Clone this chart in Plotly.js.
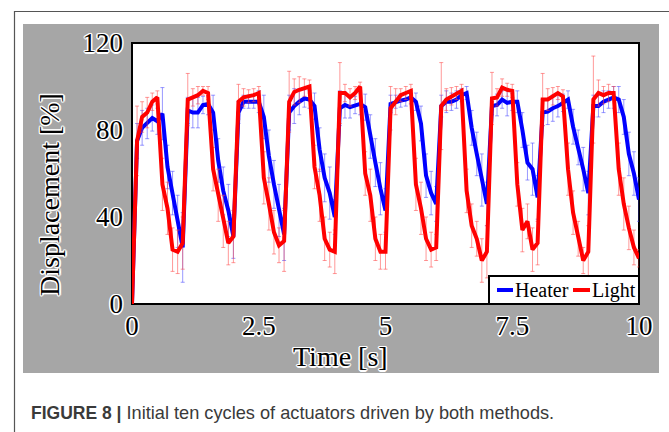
<!DOCTYPE html>
<html>
<head>
<meta charset="utf-8">
<script src="https://cdn.plot.ly/plotly-3.0.1.min.js"></script>
<style>html,body{margin:0;padding:0;background:#fff;}#chart{width:669px;height:432px;}</style>
</head>
<body>
<div id="chart"></div>
<script>
const time = [0,0.1,0.2,0.3,0.4,0.5,0.6,0.7,0.8,0.9,1,1.1,1.2,1.3,1.4,1.5,1.6,1.7,1.8,1.9,2,2.1,2.2,2.3,2.4,2.5,2.6,2.7,2.8,2.9,3,3.1,3.2,3.3,3.4,3.5,3.6,3.7,3.8,3.9,4,4.1,4.2,4.3,4.4,4.5,4.6,4.7,4.8,4.9,5,5.1,5.2,5.3,5.4,5.5,5.6,5.7,5.8,5.9,6,6.1,6.2,6.3,6.4,6.5,6.6,6.7,6.8,6.9,7,7.1,7.2,7.3,7.4,7.5,7.6,7.7,7.8,7.9,8,8.1,8.2,8.3,8.4,8.5,8.6,8.7,8.8,8.9,9,9.1,9.2,9.3,9.4,9.5,9.6,9.7,9.8,9.9,10];

const heater = [0,75,81,83,85.5,84,87.5,63,51,38,26,
  89,88,88,91.5,92,88,66,52,43,31,
  88,93,93,93,93,86,68,55,43,32,
  88,91,93,94.5,94,91,71,58,51,40,
  90,91.5,90.5,91.5,92,90.5,77,65,53,43,
  92,93,93.5,94,95,93,83,59,51,46,
  91,93,93,94,96,97,81,69,57,46,
  91,91.5,94,92.5,93,93,80,65,62,49,
  88,88.5,90,91,92.5,94,81.5,72,62,51,
  91,91,93,94,95,94,86,69,60,48];

const heaterErr = [0,8,8,7,6,6,12,10,10,12,16,
  6,7,7,4,5,8,10,11,12,10,
  5,3,3,3,5,10,12,11,12,12,
  8,8,6,4,4,6,10,11,12,8,
  8,6,5,4,5,6,10,11,12,10,
  4,3,3,3,3,4,8,10,10,8,
  5,5,4,4,3,3,8,10,12,10,
  4,5,4,6,4,5,8,8,12,10,
  6,6,6,5,4,4,8,8,10,10,
  5,5,5,4,5,6,8,10,10,10];

const light = [0,75,86,88,93,95,55,44,25,24,28,
  94,95,96,98,97,62,50,38,28,31,
  93,95,95.5,96,97,58,46,33,27,29,
  93,97.5,98.5,99.5,100,63,50,30,25,24,
  97,97,95,97,100,60,50,30,24,24,
  90,93,96,97,98,55,44,30,25,26,
  91,94,95.5,97,98,52,36,30,20,24,
  94.5,95,99.5,98.5,98,55,34,38,25,28,
  94,94,95.5,97,95.5,62,42,30,20,24,
  94,97,96,97,97,62,46,35,26,21];

const lightErr = [0,16,7,7,4,3,12,12,10,10,12,
  12,4,4,2,3,10,12,12,10,12,
  8,4,3,3,3,12,12,10,8,14,
  14,6,6,4,3,10,12,10,8,10,
  14,4,4,3,2,10,12,10,8,8,
  10,6,3,3,3,12,12,10,8,6,
  20,5,4,3,3,10,10,8,10,12,
  12,4,4,3,3,10,10,8,10,10,
  12,5,4,3,3,12,10,8,6,12,
  20,6,4,4,3,12,12,10,8,4];

const seriesNames = ['Heater', 'Light'];
const xTicks = [0, 2.5, 5, 7.5, 10];
const xTickText = ['0', '2.5', '5', '7.5', '10'];
const yTicks = [0, 40, 80, 120];
const yTickText = ['0', '40', '80', '120'];
const xTitle = 'Time [s]';
const yTitle = 'Displacement [%]';
const caption = '<b>FIGURE 8 |</b><span style="font-size:18.2px"> Initial ten cycles of actuators driven by both methods.</span>';

const halo = '1px 1px 0 #fff, -1px -1px 0 #fff, 1px -1px 0 #fff, -1px 1px 0 #fff, 0 1.5px 0 #fff, 0 -1.5px 0 #fff, 1.5px 0 0 #fff, -1.5px 0 0 #fff';
const serif = '"Liberation Serif", "Times New Roman", serif';

// plot area in pixels: x 132..639, y 43..304
const L = 132, R = 639, T = 43, B = 304;
const px = v => (v - L) / (R - L);
const py = v => (B - v) / (B - T);

const traces = [
  {x: time, y: heater, name: seriesNames[0], type: 'scatter', mode: 'lines',
   line: {color: '#0000ff', width: 4},
   error_y: {type: 'data', array: heaterErr, visible: true, color: 'rgba(70,70,255,0.55)', thickness: 1, width: 2},
   showlegend: false},
  {x: time, y: light, name: seriesNames[1], type: 'scatter', mode: 'lines',
   line: {color: '#ff0000', width: 4},
   error_y: {type: 'data', array: lightErr, visible: true, color: 'rgba(255,70,70,0.55)', thickness: 1, width: 2},
   showlegend: false}
];

const layout = {
  width: 669, height: 432,
  margin: {l: L, r: 669 - R, t: T, b: 432 - B, pad: 0},
  paper_bgcolor: '#ffffff',
  plot_bgcolor: 'rgba(0,0,0,0)',
  showlegend: false,
  xaxis: {range: [0, 10], tickvals: xTicks, ticktext: xTickText, showgrid: false, zeroline: false,
          showline: false, ticks: '', ticklabelstandoff: 3,
          tickfont: {family: serif, size: 27, color: '#000', shadow: halo}},
  yaxis: {range: [0, 120], tickvals: yTicks, ticktext: yTickText, showgrid: false, zeroline: false,
          showline: false, ticks: '', ticklabelstandoff: 8,
          tickfont: {family: serif, size: 27, color: '#000', shadow: halo}},
  shapes: [
    {type: 'rect', xref: 'paper', yref: 'paper', layer: 'below',
     x0: px(14.5), x1: px(700), y0: py(460), y1: py(11.5), line: {color: '#555', width: 1.2}, fillcolor: 'rgba(0,0,0,0)'},
    {type: 'rect', xref: 'paper', yref: 'paper', layer: 'below',
     x0: px(23), x1: px(659), y0: py(373), y1: py(24), line: {width: 0}, fillcolor: '#a6a6a6'},
    {type: 'rect', xref: 'paper', yref: 'paper', layer: 'below',
     x0: 0, x1: 1, y0: 0, y1: 1, line: {color: '#000', width: 2}, fillcolor: '#ffffff'},
    // legend box
    {type: 'rect', xref: 'paper', yref: 'paper', layer: 'above',
     x0: px(489), x1: px(639), y0: py(304), y1: py(276), line: {color: '#000', width: 2}, fillcolor: '#ffffff'},
    {type: 'line', xref: 'paper', yref: 'paper', layer: 'above',
     x0: px(497), x1: px(513), y0: py(290), y1: py(290), line: {color: '#0000ff', width: 4}},
    {type: 'line', xref: 'paper', yref: 'paper', layer: 'above',
     x0: px(573), x1: px(590), y0: py(290), y1: py(290), line: {color: '#ff0000', width: 4}}
  ],
  annotations: [
    {text: seriesNames[0], xref: 'paper', yref: 'paper', x: px(513), y: py(290), xanchor: 'left', yanchor: 'middle',
     showarrow: false, font: {family: serif, size: 20, color: '#000'}},
    {text: seriesNames[1], xref: 'paper', yref: 'paper', x: px(590), y: py(290), xanchor: 'left', yanchor: 'middle',
     showarrow: false, font: {family: serif, size: 20, color: '#000'}},
    {text: xTitle, xref: 'paper', yref: 'paper', x: px(340), y: py(356), xanchor: 'center', yanchor: 'middle',
     showarrow: false, font: {family: serif, size: 28, color: '#000', shadow: halo}},
    {text: yTitle, xref: 'paper', yref: 'paper', x: px(49), y: py(195), xanchor: 'center', yanchor: 'middle',
     textangle: -90, showarrow: false, font: {family: serif, size: 28, color: '#000', shadow: halo}},
    {text: caption, xref: 'paper', yref: 'paper', x: px(29), y: py(413), xanchor: 'left', yanchor: 'middle',
     showarrow: false, font: {family: '"Liberation Sans", Arial, sans-serif', size: 17.5, color: '#3a3a3a'}}
  ]
};

Plotly.newPlot('chart', traces, layout, {staticPlot: true, displayModeBar: false});
</script>
</body>
</html>
